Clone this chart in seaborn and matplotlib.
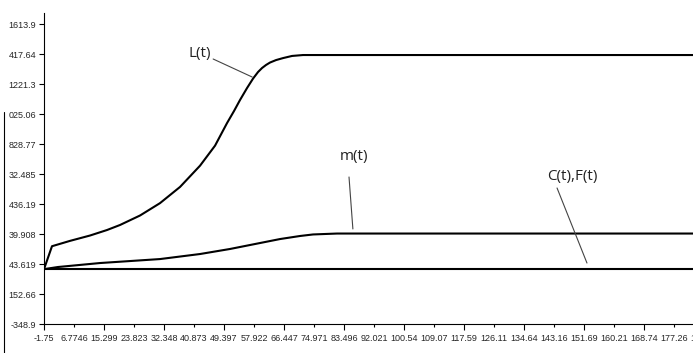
import matplotlib
matplotlib.use("Agg")
import matplotlib.pyplot as plt
import seaborn as sns
from matplotlib.lines import Line2D

# series
t_L = [-1.75, 0.52, 5.64, 11.32, 16.15, 19.85, 25.53, 31.21, 36.90, 42.58, 46.84,
       50.25, 52.24, 53.94, 55.93, 57.64, 59.06, 60.19, 61.33, 62.47, 64.17, 66.16,
       68.72, 71.85, 185.79]
L = [10, 160, 195, 230, 266, 299, 361, 442, 548, 687, 818,
     966, 1045, 1117, 1195, 1257, 1300, 1326, 1346, 1362, 1378, 1391,
     1405, 1411, 1411]

t_m = [-1.75, 2.23, 14.16, 31.21, 42.58, 51.1, 59.63, 65.31, 71.0, 74.69, 81.5, 185.79]
m = [10, 24, 50, 76, 109, 142, 181, 207, 227, 237, 243, 243]

t_CF = [-1.75, 185.79]
CF = [10, 10]

# tick labels as printed (the y labels are cut to 6 characters in the original)
x_tick_labels = ['-1.75', '6.7746', '15.299', '23.823', '32.348', '40.873', '49.397',
                 '57.922', '66.447', '74.971', '83.496', '92.021', '100.54', '109.07',
                 '117.59', '126.11', '134.64', '143.16', '151.69', '160.21', '168.74',
                 '177.26', '185.79']
y_tick_values = [-348.9, -152.66, 43.619, 239.908, 436.19, 632.485, 828.77,
                 1025.06, 1221.3, 1417.64, 1613.9]
y_tick_labels = ['-348.9', '152.66', '43.619', '39.908', '436.19', '32.485', '828.77',
                 '025.06', '1221.3', '417.64', '1613.9']

sns.set_style('white')
plt.rcParams['font.family'] = ['Liberation Sans Narrow', 'Liberation Sans', 'DejaVu Sans']

fig = plt.figure(figsize=(6.93, 3.53), dpi=100)
ax = fig.add_axes([44 / 693, 29 / 353, 663 / 693, 311 / 353])

for tt, vv in [(t_L, L), (t_m, m), (t_CF, CF)]:
    sns.lineplot(x=tt, y=vv, ax=ax, color='black', lw=1.5, estimator=None, sort=False)

ax.set_xlim(-1.75, 186.6)
ax.set_ylim(-348.9, 1686)

x_pos = [float(s) for s in x_tick_labels]
ax.set_xticks(x_pos[0::2])
ax.set_xticklabels(x_tick_labels[0::2])
ax.set_xticks(x_pos[1::2], minor=True)
ax.set_xticklabels(x_tick_labels[1::2], minor=True)
ax.set_yticks(y_tick_values)
ax.set_yticklabels(y_tick_labels)

ax.tick_params(axis='x', which='major', direction='out', length=4.3, width=0.8,
               pad=3.0, labelsize=6.5, bottom=True, color='black')
ax.tick_params(axis='x', which='minor', direction='out', length=2.2, width=0.8,
               pad=5.1, labelsize=6.5, bottom=True, color='black')
ax.tick_params(axis='y', direction='out', length=3.6, width=0.8, pad=2.0,
               labelsize=6.5, left=True, color='black')

sns.despine(ax=ax)
for side in ['left', 'bottom']:
    ax.spines[side].set_color('black')
    ax.spines[side].set_linewidth(0.8)

# curve labels with leader lines
note_font = ['Open Sans', 'DejaVu Sans']
notes = [
    ('L(t)', (42.6, 1424), (46.3, 1385), (57.4, 1267)),
    ('m(t)', (86.3, 744), (84.9, 613), (86.0, 273)),
    ('C(t),F(t)', (148.3, 619), (144.0, 541), (152.5, 50)),
]
for label, txt_xy, start, end in notes:
    ax.text(*txt_xy, label, ha='center', va='center', fontsize=11,
            family=note_font, color='#222222')
    ax.annotate('', xy=end, xytext=start,
                arrowprops=dict(arrowstyle='-', color='#444444', lw=0.8,
                                shrinkA=0, shrinkB=0))

# thin frame edge seen at the left of the screenshot
fig.add_artist(Line2D([4 / 693, 4 / 693], [0, 241 / 353], color='black', lw=0.8))

fig.savefig('out.png', dpi=100)
